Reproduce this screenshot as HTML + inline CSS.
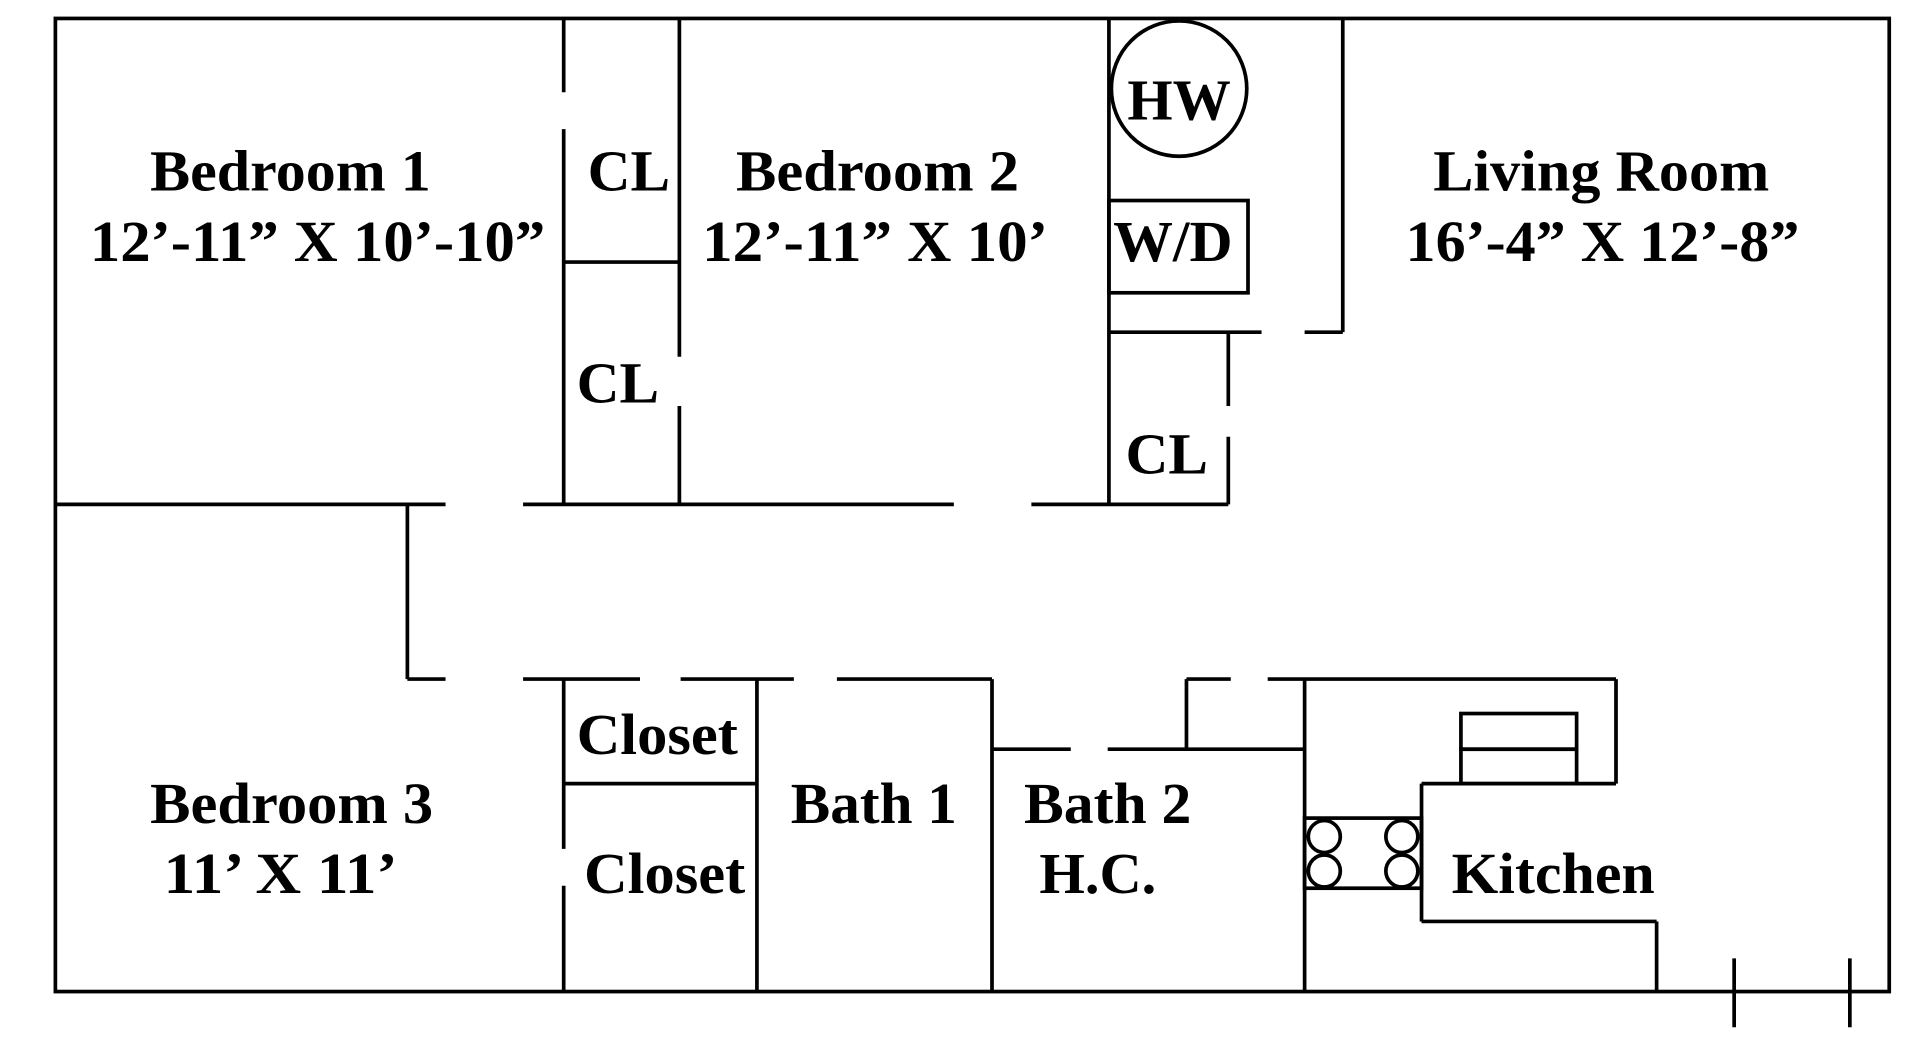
<!DOCTYPE html>
<html><head><meta charset="utf-8"><style>
html,body{margin:0;padding:0;background:#fff;}
svg{display:block;}
text{font-family:"Liberation Serif",serif;font-weight:bold;font-size:47px;fill:#000;text-anchor:middle;}
</style></head><body>
<svg width="1920" height="1042" viewBox="0 0 1560 847" preserveAspectRatio="none">
<g stroke="#000" stroke-width="3" fill="none">
<rect x="45" y="15" width="1490" height="791"/>
<path d="M458 15V75M458 105V410M552 15V290M552 330V410M458 213H552"/>
<path d="M45 410H362M425 410H775M838 410H998"/>
<path d="M901 15V410M1091 15V270M901 270H1025M1060 270H1091M998 270V330M998 355V410"/>
<circle cx="958" cy="72" r="55"/>
<rect x="901" y="163" width="113" height="75"/>
<path d="M331 410V552M331 552H362M425 552H520M553 552H645M680 552H806M806 552V806"/>
<path d="M458 552V690M458 720V806M458 637H615M615 552V806"/>
<path d="M806 609H870M900 609H1060M964 552V609M964 552H1000M1030 552H1313M1060 552V806"/>
<path d="M1313 552V637M1155 637H1313M1155 637V749M1155 749H1346M1346 749V806"/>
<rect x="1187" y="580" width="94" height="29"/><rect x="1187" y="609" width="94" height="28"/>
<rect x="1060" y="665" width="95" height="57"/>
<circle cx="1076" cy="680" r="13"/><circle cx="1076" cy="708" r="13"/>
<circle cx="1139" cy="680" r="13"/><circle cx="1139" cy="708" r="13"/>
<path d="M1409 779V835M1503 779V835"/>
</g>
<g>
<text x="236" y="155" textLength="228" lengthAdjust="spacingAndGlyphs">Bedroom 1</text>
<text x="258" y="212" textLength="370" lengthAdjust="spacingAndGlyphs">12’-11” X 10’-10”</text>
<text x="511" y="155" textLength="67" lengthAdjust="spacingAndGlyphs">CL</text>
<text x="713" y="155" textLength="230" lengthAdjust="spacingAndGlyphs">Bedroom 2</text>
<text x="711" y="212" textLength="281" lengthAdjust="spacingAndGlyphs">12’-11” X 10’</text>
<text x="958" y="97" textLength="84" lengthAdjust="spacingAndGlyphs">HW</text>
<text x="953" y="212" textLength="97" lengthAdjust="spacingAndGlyphs">W/D</text>
<text x="1301" y="155" textLength="273" lengthAdjust="spacingAndGlyphs">Living Room</text>
<text x="1302" y="212" textLength="320" lengthAdjust="spacingAndGlyphs">16’-4” X 12’-8”</text>
<text x="502" y="327" textLength="67" lengthAdjust="spacingAndGlyphs">CL</text>
<text x="948" y="385" textLength="67" lengthAdjust="spacingAndGlyphs">CL</text>
<text x="534" y="613" textLength="131" lengthAdjust="spacingAndGlyphs">Closet</text>
<text x="540" y="726" textLength="131" lengthAdjust="spacingAndGlyphs">Closet</text>
<text x="237" y="669" textLength="230" lengthAdjust="spacingAndGlyphs">Bedroom 3</text>
<text x="228" y="726" textLength="190" lengthAdjust="spacingAndGlyphs">11’ X 11’</text>
<text x="710" y="669" textLength="135" lengthAdjust="spacingAndGlyphs">Bath 1</text>
<text x="900" y="669" textLength="136" lengthAdjust="spacingAndGlyphs">Bath 2</text>
<text x="892" y="726" textLength="95" lengthAdjust="spacingAndGlyphs">H.C.</text>
<text x="1262" y="726" textLength="165" lengthAdjust="spacingAndGlyphs">Kitchen</text>
</g>
</svg>
</body></html>
